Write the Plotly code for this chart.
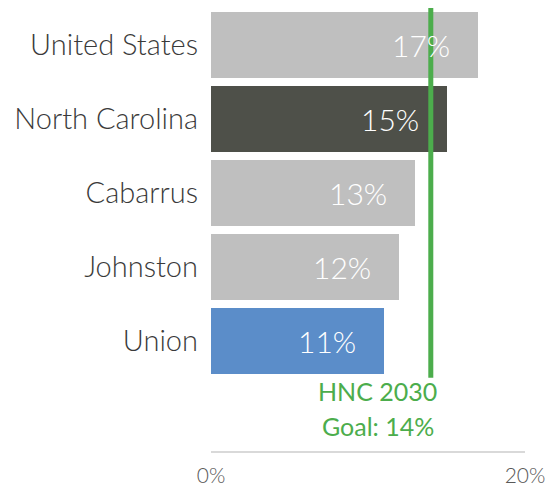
import plotly.graph_objects as go

# Share of population (%) by area, with the HNC 2030 goal
regions = ["United States", "North Carolina", "Cabarrus", "Johnston", "Union"]
values = [17, 15, 13, 12, 11]
bar_colors = ["#BFBFBF", "#4E5049", "#BFBFBF", "#BFBFBF", "#5B8DC9"]
goal_value = 14
goal_lines = ["HNC 2030", "Goal: 14%"]
x_ticks = [0, 20]
x_tick_labels = ["0%", "20%"]

FONT = "Lato"
GREEN = "#4CAD4C"

fig = go.Figure()
fig.add_trace(go.Bar(
    y=regions,
    x=values,
    orientation="h",
    marker=dict(color=bar_colors, line=dict(width=0)),
    width=0.89,
    hoverinfo="skip",
))

# value labels inside each bar, set in from the bar end
for r, v in zip(regions, values):
    fig.add_annotation(
        x=v, y=r, xref="x", yref="y",
        text=f"{v}%", showarrow=False,
        xanchor="right", yanchor="middle", xshift=-26,
        font=dict(family=FONT, size=30, color="white", weight=300),
    )

# goal line spanning the bars
fig.add_shape(
    type="line", xref="x", yref="y",
    x0=goal_value, x1=goal_value, y0=-0.5, y1=len(regions) - 0.5,
    line=dict(color=GREEN, width=5),
)
for i, line in enumerate(goal_lines):
    fig.add_annotation(
        x=goal_value, y=len(regions) - 0.5, xref="x", yref="y",
        text=line, showarrow=False,
        xanchor="center", yanchor="middle",
        xshift=-53, yshift=-13 - 35 * i,
        font=dict(family=FONT, size=25, color=GREEN, weight=400),
    )

fig.update_layout(
    width=546, height=487,
    margin=dict(l=211, r=21, t=8, b=36),
    paper_bgcolor="white", plot_bgcolor="white",
    showlegend=False,
    bargap=0,
    font=dict(family=FONT),
)
fig.update_xaxes(
    range=[0, 20],
    tickvals=x_ticks, ticktext=x_tick_labels,
    showgrid=False, zeroline=False, automargin=False,
    showline=True, linecolor="#D9D9D9", linewidth=1.5,
    ticks="", tickfont=dict(family=FONT, size=21, color="#595959", weight=300),
    ticklabelstandoff=5,
)
fig.update_yaxes(
    categoryorder="array", categoryarray=regions,
    range=[5.49, -0.5],
    showgrid=False, zeroline=False, showline=False, automargin=False,
    ticks="", tickfont=dict(family=FONT, size=29, color="#3A3A3A", weight=300),
    ticklabelstandoff=12,
)

fig.write_html("out.html")
